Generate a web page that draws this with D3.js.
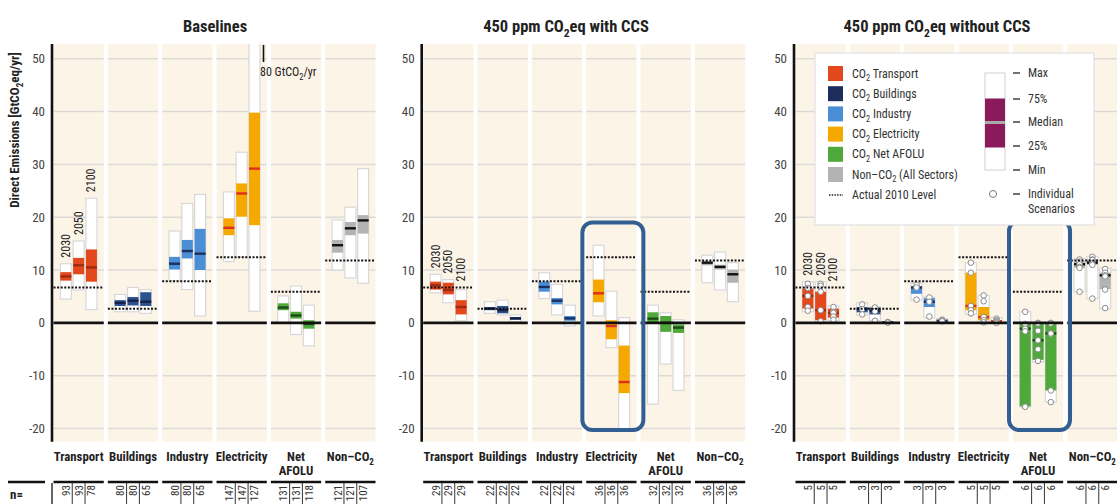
<!DOCTYPE html>
<html>
<head>
<meta charset="utf-8">
<script src="https://cdn.jsdelivr.net/npm/d3@7"></script>
<style>
  body { margin: 0; background: #fff; }
  svg { display: block; }
</style>
</head>
<body>
<script>
// sectors and years shown in every panel
var categories = ['Transport', 'Buildings', 'Industry', 'Electricity', 'Net AFOLU', 'Non-CO2'];
var years = ['2030', '2050', '2100'];
var yTicks = [-20, -10, 0, 10, 20, 30, 40, 50];
var panelTitles = ['Baselines', '450 ppm CO_2eq with CCS', '450 ppm CO_2eq without CCS'];

// actual 2010 level per sector
var level2010 = [6.7, 2.65, 7.9, 12.4, 5.9, 11.8];

// [min, 25%, median, 75%, max] per sector, per year
var baselineStats = [
    [[4.5, 8.0, 8.8, 9.6, 11.2], [6.2, 9.2, 10.9, 12.3, 15.5], [2.5, 7.8, 10.5, 13.9, 23.6]],
    [[2.1, 3.2, 3.8, 4.3, 5.4], [2.1, 3.3, 4.2, 4.9, 6.7], [1.8, 3.2, 4.0, 5.8, 6.3]],
    [[8.0, 10.1, 11.2, 12.5, 17.4], [6.3, 12.2, 13.6, 15.7, 22.6], [1.3, 10.0, 13.1, 17.8, 24.3]],
    [[11.6, 16.6, 18.0, 19.8, 24.8], [12.5, 20.1, 24.5, 26.4, 32.3], [2.2, 18.5, 29.2, 39.8, 80]],
    [[0, 2.4, 2.9, 3.7, 5.1], [-2.2, 0.8, 1.4, 2.1, 7.0], [-4.35, -1.1, -0.2, 0.5, 3.35]],
    [[10.0, 13.3, 14.7, 15.7, 19.5], [8.5, 16.6, 17.9, 19.1, 21.9], [7.5, 16.9, 19.4, 20.4, 29.2]]
];
var ccsStats = [
    [[5.7, 6.3, 7.1, 7.8, 9.2], [3.8, 5.4, 6.2, 7.6, 8.2], [0.4, 1.6, 3.0, 4.3, 6.3]],
    [[1.8, 2.4, 2.7, 3.0, 4.0], [1.5, 1.8, 2.4, 3.2, 4.3], [0.2, 0.6, 0.85, 1.1, 1.5]],
    [[4.6, 5.9, 6.8, 7.8, 9.5], [1.5, 3.5, 4.2, 4.7, 7.3], [-0.6, 0.4, 0.85, 1.3, 3.35]],
    [[1.3, 3.9, 5.6, 8.2, 14.7], [-4.7, -3.1, -0.6, 0.5, 6.0], [-20.5, -13.3, -11.2, -4.3, 1.0]],
    [[-15.4, -0.2, 0.8, 2.0, 3.35], [-7.8, -1.7, 0, 1.3, 1.9], [-12.8, -1.9, -0.9, -0.3, 0.6]],
    [[7.6, 10.9, 11.4, 11.6, 12.8], [6.2, 10.1, 10.6, 11.0, 13.4], [4.0, 7.6, 9.2, 10.1, 11.4]]
];
var noCcsStats = [
    [[2.1, 2.7, 5.1, 6.5, 7.8], [0.2, 0.5, 2.4, 5.9, 7.8], [0.4, 1.0, 1.9, 2.7, 3.2]],
    [[1.5, 2.0, 2.6, 3.0, 3.8], [0.4, 1.6, 2.3, 2.9, 3.0], [0, 0.05, 0.1, 0.15, 0.2]],
    [[4.3, 5.5, 6.7, 6.9, 7.5], [1.0, 3.0, 4.0, 4.7, 4.9], [0.2, 0.35, 0.4, 0.5, 0.8]],
    [[1.6, 2.4, 3.2, 9.5, 11.4], [0, 0.5, 1.1, 3.0, 5.2], [0, 0.1, 0.3, 0.5, 1.0]],
    [[-15.9, -15.8, -1.1, -0.2, 2.1], [-7.4, -7.0, -3.3, 0, 0], [-15.0, -12.8, -2.0, 0, 0]],
    [[5.9, 10.4, 11.1, 11.6, 12.2], [4.6, 11.0, 11.4, 12.0, 12.6], [2.7, 6.4, 9.0, 9.5, 10.4]]
];
// individual scenarios (only drawn for the "without CCS" panel)
var noCcsScenarios = [
    [[7.4, 6.6, 5.1, 3.0, 2.3], [7.4, 7.0, 5.9, 2.4, 0.3], [3.0, 2.1, 1.9, 1.2, 0.6]],
    [[3.5, 2.6, 1.6], [2.9, 2.2, 0.4], [0.15, 0.1, 0.05]],
    [[7.2, 6.7, 4.4], [4.8, 4.0, 1.2], [0.6, 0.4, 0.3]],
    [[11.4, 9.5, 3.2, 2.4, 1.8], [5.2, 4.1, 1.1, 0.5, 0.1], [0.8, 0.5, 0.3, 0.1, 0.0]],
    [[2.1, -0.2, -1.1, -1.6, -15.8, -15.9], [0, -0.1, -1.5, -3.3, -5.0, -7.2], [0, -0.1, -2.0, -2.0, -12.8, -15.0]],
    [[12.0, 11.6, 11.1, 10.6, 10.4, 5.9], [12.5, 12.0, 11.9, 11.3, 11.0, 4.6], [10.2, 9.5, 9.0, 8.8, 6.3, 2.8]]
];

// number of scenarios
var baselineN = [[93, 93, 78], [80, 80, 65], [80, 80, 65], [147, 147, 127], [131, 131, 118], [121, 121, 107]];
var ccsN = [[29, 29, 29], [22, 22, 22], [22, 22, 22], [36, 36, 36], [32, 32, 32], [36, 36, 36]];
var noCcsN = [[5, 5, 5], [3, 3, 3], [3, 3, 3], [5, 5, 5], [6, 6, 6], [6, 6, 6]];

var sectorColors = ['#e2481c', '#2c528f', '#4a8fd6', '#f5a800', '#4ea83a', '#b3b3b3'];
var medianColors = ['#9e2a14', '#17224a', '#1c2f60', '#e0301c', '#1d4a18', '#111111'];

var FONT = "'Liberation Sans Narrow', 'Roboto Condensed', 'Liberation Sans', sans-serif";

var svg = d3.select('body').append('svg')
    .attr('width', 1117)
    .attr('height', 504)
    .style('font-family', FONT);

var y = d3.scaleLinear().domain([-22.5, 52.8]).range([441.7, 44]);

svg.append('clipPath').attr('id', 'plotclip')
    .append('rect').attr('x', 0).attr('y', 44).attr('width', 1117).attr('height', 441.7 - 44);

// writes "CO_2" style strings with a subscript 2
function richText(sel, str, size) {
    var parts = str.split('_');
    sel.append('tspan').text(parts[0]);
    for (var k = 1; k < parts.length; k++) {
        sel.append('tspan').attr('dy', size * 0.3).attr('font-size', size * 0.7).text(parts[k].charAt(0));
        sel.append('tspan').attr('dy', -size * 0.3).text(parts[k].slice(1));
    }
    return sel;
}

var panels = [
    { axisX: 52, stats: baselineStats, n: baselineN, scen: null, title: 215 },
    { axisX: 421.7, stats: ccsStats, n: ccsN, scen: null, title: 566 },
    { axisX: 794, stats: noCcsStats, n: noCcsN, scen: noCcsScenarios, title: 937 }
];

panels.forEach(function(p, pi) {
    var g = svg.append('g');
    var x = d3.scaleBand()
        .domain(categories)
        .range([p.axisX + 1.5, p.axisX + 323.5])
        .paddingInner(0.075);
    var bw = x.bandwidth();
    var barW = 11;
    function barX(i, j) { return x(categories[i]) + bw / 2 + (j - 1) * 12.8; }

    // column backgrounds
    g.selectAll('rect.col').data(categories).enter().append('rect')
        .attr('x', function(d) { return x(d); })
        .attr('y', 44)
        .attr('width', bw)
        .attr('height', 441.7 - 44)
        .attr('fill', '#fdf4e8');

    // grid lines, broken at every column
    categories.forEach(function(c) {
        g.selectAll(null).data(yTicks.filter(function(t) { return t !== 0; })).enter().append('line')
            .attr('x1', x(c)).attr('x2', x(c) + bw)
            .attr('y1', function(d) { return y(d); })
            .attr('y2', function(d) { return y(d); })
            .attr('stroke', '#dcdad6')
            .attr('stroke-width', 1.5);
    });

    var plot = g.append('g').attr('clip-path', 'url(#plotclip)');

    // boxes
    p.stats.forEach(function(cat, i) {
        cat.forEach(function(s, j) {
            var cx = barX(i, j);
            plot.append('rect')
                .attr('x', cx - barW / 2).attr('width', barW)
                .attr('y', y(s[4])).attr('height', Math.max(y(s[0]) - y(s[4]), 1))
                .attr('fill', '#fff')
                .attr('stroke', '#d8d8d8')
                .attr('stroke-width', 1.2);
            plot.append('rect')
                .attr('x', cx - barW / 2).attr('width', barW)
                .attr('y', y(s[3])).attr('height', Math.max(y(s[1]) - y(s[3]), 0.5))
                .attr('fill', sectorColors[i]);
            plot.append('rect')
                .attr('x', cx - barW / 2).attr('width', barW)
                .attr('y', y(s[2]) - 1.2).attr('height', 2.4)
                .attr('fill', medianColors[i]);
        });
    });

    // zero line per column
    g.selectAll('line.zero').data(categories).enter().append('line')
        .attr('x1', function(d) { return x(d); })
        .attr('x2', function(d) { return x(d) + bw; })
        .attr('y1', y(0)).attr('y2', y(0))
        .attr('stroke', '#111')
        .attr('stroke-width', 2.6);

    // actual 2010 levels
    g.selectAll('line.lvl').data(level2010).enter().append('line')
        .attr('x1', function(d, i) { return x(categories[i]); })
        .attr('x2', function(d, i) { return x(categories[i]) + bw; })
        .attr('y1', function(d) { return y(d); })
        .attr('y2', function(d) { return y(d); })
        .attr('stroke', '#111')
        .attr('stroke-width', 2)
        .attr('stroke-dasharray', '2,1.6');

    // individual scenarios
    if (p.scen) {
        p.scen.forEach(function(cat, i) {
            cat.forEach(function(vals, j) {
                plot.selectAll(null).data(vals).enter().append('circle')
                    .attr('cx', barX(i, j))
                    .attr('cy', function(d) { return y(d); })
                    .attr('r', 2.8)
                    .attr('fill', '#fff')
                    .attr('stroke', '#8a8a8a')
                    .attr('stroke-width', 1);
            });
        });
    }

    // year labels over the transport boxes (kept above the 2010 line)
    years.forEach(function(yr, j) {
        var bx = barX(0, j);
        var top = Math.min(y(p.stats[0][j][4]), y(level2010[0])) - 6;
        g.append('text')
            .attr('transform', 'translate(' + (bx + 4) + ',' + top + ') rotate(-90)')
            .attr('font-size', 12)
            .attr('fill', '#222')
            .text(yr);
    });

    // y axis
    g.append('line')
        .attr('x1', p.axisX).attr('x2', p.axisX)
        .attr('y1', 44).attr('y2', 441.7)
        .attr('stroke', '#111').attr('stroke-width', 2.6);
    g.selectAll('text.tick').data(yTicks).enter().append('text')
        .attr('x', p.axisX - 7)
        .attr('y', function(d) { return y(d) + 4.5; })
        .attr('text-anchor', 'end')
        .attr('font-size', 13)
        .attr('fill', '#444')
        .text(function(d) { return d; });

    // panel title
    richText(g.append('text')
        .attr('x', p.title).attr('y', 32)
        .attr('text-anchor', 'middle')
        .attr('font-size', 16.5)
        .attr('font-weight', 'bold')
        .attr('fill', '#222'), panelTitles[pi], 16.5);

    // category labels
    categories.forEach(function(c) {
        var cx = x(c) + bw / 2;
        var t = g.append('text')
            .attr('x', cx).attr('y', 461)
            .attr('text-anchor', 'middle')
            .attr('font-size', 12.8)
            .attr('font-weight', 'bold')
            .attr('fill', '#222');
        if (c === 'Net AFOLU') {
            t.append('tspan').attr('x', cx).text('Net');
            t.append('tspan').attr('x', cx).attr('dy', 14).text('AFOLU');
        } else if (c === 'Non-CO2') {
            richText(t, 'Non\u2013CO_2', 12.8);
        } else {
            t.text(c);
        }
    });

    // n= row
    g.selectAll('line.nrule').data(categories).enter().append('line')
        .attr('x1', function(d) { return x(d); })
        .attr('x2', function(d) { return x(d) + bw; })
        .attr('y1', 482).attr('y2', 482)
        .attr('stroke', '#111').attr('stroke-width', 2.4);
    p.n.forEach(function(cat, i) {
        cat.forEach(function(v, j) {
            var bx = barX(i, j);
            g.append('text')
                .attr('transform', 'translate(' + (bx + 4) + ',485) rotate(-90)')
                .attr('text-anchor', 'end')
                .attr('font-size', 11)
                .attr('fill', '#333')
                .text(v);
            if (j < 2) {
                g.append('line')
                    .attr('x1', bx + 6.4).attr('x2', bx + 6.4)
                    .attr('y1', 483).attr('y2', 504)
                    .attr('stroke', '#333').attr('stroke-width', 1);
            }
        });
    });

    p.x = x;
});

// left panel extras: n= label, axis tick in n row, y title, 80 Gt note
svg.append('line').attr('x1', 8).attr('x2', 45).attr('y1', 482).attr('y2', 482)
    .attr('stroke', '#111').attr('stroke-width', 2.4);
svg.append('line').attr('x1', 52).attr('x2', 52).attr('y1', 483).attr('y2', 504)
    .attr('stroke', '#333').attr('stroke-width', 1.5);
svg.append('text').attr('x', 10).attr('y', 499)
    .attr('font-size', 13).attr('font-weight', 'bold').attr('fill', '#222').text('n=');

richText(svg.append('text')
    .attr('transform', 'translate(19,' + 130 + ') rotate(-90)')
    .attr('text-anchor', 'middle')
    .attr('font-size', 13)
    .attr('font-weight', 'bold')
    .attr('fill', '#222'), 'Direct Emissions [GtCO_2eq/yr]', 13);

svg.append('line').attr('x1', 263.5).attr('x2', 263.5).attr('y1', 45).attr('y2', 62)
    .attr('stroke', '#111').attr('stroke-width', 1.6);
richText(svg.append('text').attr('x', 260).attr('y', 76)
    .attr('font-size', 12).attr('fill', '#222'), '80 GtCO_2/yr', 12);

// highlight frames
[[1, 'Electricity', 19], [2, 'Net AFOLU', 19.3]].forEach(function(h) {
    var x = panels[h[0]].x;
    var cx = x(h[1]) + x.bandwidth() / 2 + 1;
    svg.append('rect')
        .attr('x', cx - 30).attr('width', 61)
        .attr('y', y(h[2])).attr('height', y(-20.3) - y(h[2]))
        .attr('rx', 10).attr('ry', 10)
        .attr('fill', 'none')
        .attr('stroke', '#335e91')
        .attr('stroke-width', 4);
});

// legend
var lg = svg.append('g');
lg.append('rect')
    .attr('x', 815).attr('y', 53).attr('width', 279).attr('height', 172)
    .attr('fill', '#fff').attr('stroke', '#e2e2e2').attr('stroke-width', 1.2);

var legendLabels = ['CO_2 Transport', 'CO_2 Buildings', 'CO_2 Industry', 'CO_2 Electricity', 'CO_2 Net AFOLU', 'Non\u2013CO_2 (All Sectors)'];
var legendSwatch = ['#e2481c', '#1f2d5c', '#4a8fd6', '#f5a800', '#4ea83a', '#b3b3b3'];
legendLabels.forEach(function(l, i) {
    var ly = 73.5 + i * 20.2;
    lg.append('rect').attr('x', 828).attr('y', ly - 7.5).attr('width', 15).attr('height', 15)
        .attr('fill', legendSwatch[i]);
    richText(lg.append('text').attr('x', 852).attr('y', ly + 4)
        .attr('font-size', 12).attr('fill', '#333'), l, 12);
});
lg.append('line').attr('x1', 829).attr('x2', 843).attr('y1', 195).attr('y2', 195)
    .attr('stroke', '#222').attr('stroke-width', 1.3).attr('stroke-dasharray', '1.5,1.2');
lg.append('text').attr('x', 852).attr('y', 199)
    .attr('font-size', 12).attr('fill', '#333').text('Actual 2010 Level');

// box key
lg.append('rect').attr('x', 985).attr('y', 73).attr('width', 20).attr('height', 97)
    .attr('fill', '#fff').attr('stroke', '#d0d0d0').attr('stroke-width', 1);
lg.append('rect').attr('x', 985).attr('y', 98.5).attr('width', 20).attr('height', 49)
    .attr('fill', '#8a1a5b');
lg.append('rect').attr('x', 985).attr('y', 121).attr('width', 20).attr('height', 3)
    .attr('fill', '#aaaaaa');
var keyItems = [['Max', 73], ['75%', 99], ['Median', 122], ['25%', 146], ['Min', 170]];
keyItems.forEach(function(k) {
    lg.append('line').attr('x1', 1013).attr('x2', 1020).attr('y1', k[1]).attr('y2', k[1])
        .attr('stroke', '#222').attr('stroke-width', 1.3);
    lg.append('text').attr('x', 1028).attr('y', k[1] + 4)
        .attr('font-size', 12).attr('fill', '#333').text(k[0]);
});
lg.append('circle').attr('cx', 993).attr('cy', 194).attr('r', 3.5)
    .attr('fill', '#fff').attr('stroke', '#777').attr('stroke-width', 1);
lg.append('line').attr('x1', 1013).attr('x2', 1020).attr('y1', 194).attr('y2', 194)
    .attr('stroke', '#222').attr('stroke-width', 1.3);
lg.append('text').attr('x', 1028).attr('y', 198)
    .attr('font-size', 12).attr('fill', '#333').text('Individual');
lg.append('text').attr('x', 1028).attr('y', 213)
    .attr('font-size', 12).attr('fill', '#333').text('Scenarios');
</script>
</body>
</html>
